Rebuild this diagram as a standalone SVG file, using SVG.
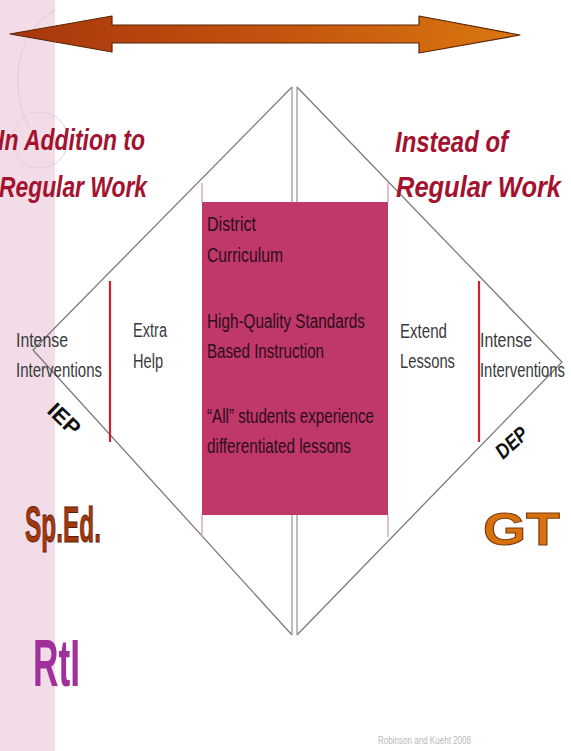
<svg xmlns="http://www.w3.org/2000/svg" width="571" height="751" viewBox="0 0 571 751">
<defs>
<linearGradient id="arrowGrad" x1="0" y1="0" x2="1" y2="0">
<stop offset="0" stop-color="#A8360E"/>
<stop offset="0.5" stop-color="#C2520E"/>
<stop offset="1" stop-color="#DA7810"/>
</linearGradient>
<style>
.edge{fill:none;stroke:#7a7a7a;stroke-width:1.3}
.mid{fill:none;stroke:#9a9a9a;stroke-width:1.3}
.red{stroke:#D0202A;stroke-width:2.2}
.tick{stroke:#D9A8C8;stroke-width:1.5}
.lbl{font-family:"Liberation Sans",Arial,sans-serif;font-size:20px;fill:#3a3a3a}
.box{font-family:"Liberation Sans",Arial,sans-serif;font-size:20px;fill:#2a0e1a}
.title{font-family:"Liberation Sans",Arial,sans-serif;font-size:29px;font-weight:bold;font-style:italic;fill:#A3122E}
.big{font-family:"Liberation Sans",Arial,sans-serif;font-weight:bold}
</style>
</defs>
<rect x="0" y="0" width="571" height="751" fill="#ffffff"/>
<g id="band">
<rect x="0" y="0" width="55" height="751" fill="#F1DCE7"/>
<path d="M55 10 C 20 30 5 80 30 130" fill="none" stroke="#E6C8D8" stroke-width="1"/>
<circle cx="40" cy="140" r="28" fill="none" stroke="#E8CCDB" stroke-width="1"/>
</g>
<g id="arrow">
<polygon points="10,34 112,16 112,25 419,25 419,16 520,35 419,53 419,43 112,43 112,52" fill="url(#arrowGrad)" stroke="#5a2406" stroke-width="1.2" stroke-linejoin="round"/>
</g>
<g id="connectors">
<polyline class="edge" points="292,87 33,350 292,635"/>
<polyline class="edge" points="297,87 562,362 297,635"/>
<line class="mid" x1="292" y1="87" x2="292" y2="635"/>
<line class="mid" x1="297" y1="87" x2="297" y2="635"/>
<line class="red" x1="110" y1="281" x2="110" y2="442"/>
<line class="red" x1="479" y1="281" x2="479" y2="442"/>
<line class="tick" x1="202" y1="183" x2="202" y2="202"/>
<line class="tick" x1="388" y1="183" x2="388" y2="202"/>
<line class="tick" x1="202" y1="515" x2="202" y2="537"/>
<line class="tick" x1="388" y1="515" x2="388" y2="537"/>
</g>
<g id="core">
<rect x="202" y="202" width="186" height="313" fill="#C0376A"/>
<text class="box" x="207" y="231" textLength="49" lengthAdjust="spacingAndGlyphs">District</text>
<text class="box" x="207" y="262" textLength="76" lengthAdjust="spacingAndGlyphs">Curriculum</text>
<text class="box" x="207" y="328" textLength="158" lengthAdjust="spacingAndGlyphs">High-Quality Standards</text>
<text class="box" x="207" y="358" textLength="117" lengthAdjust="spacingAndGlyphs">Based Instruction</text>
<text class="box" x="207" y="423" textLength="167" lengthAdjust="spacingAndGlyphs">“All” students experience</text>
<text class="box" x="207" y="453" textLength="144" lengthAdjust="spacingAndGlyphs">differentiated lessons</text>
</g>
<g id="addition">
<text class="title" x="-2" y="150" textLength="147" lengthAdjust="spacingAndGlyphs">In Addition to</text>
<text class="title" x="-1" y="197" textLength="148" lengthAdjust="spacingAndGlyphs">Regular Work</text>
</g>
<g id="instead">
<text class="title" x="395" y="152" textLength="113" lengthAdjust="spacingAndGlyphs">Instead of</text>
<text class="title" x="396" y="197" textLength="165" lengthAdjust="spacingAndGlyphs">Regular Work</text>
</g>
<g id="left-intense">
<text class="lbl" x="16" y="347" textLength="52" lengthAdjust="spacingAndGlyphs">Intense</text>
<text class="lbl" x="16" y="377" textLength="86" lengthAdjust="spacingAndGlyphs">Interventions</text>
</g>
<g id="extra-help">
<text class="lbl" x="133" y="337" textLength="34" lengthAdjust="spacingAndGlyphs">Extra</text>
<text class="lbl" x="133" y="368" textLength="30" lengthAdjust="spacingAndGlyphs">Help</text>
</g>
<g id="extend-lessons">
<text class="lbl" x="400" y="338" textLength="47" lengthAdjust="spacingAndGlyphs">Extend</text>
<text class="lbl" x="400" y="368" textLength="55" lengthAdjust="spacingAndGlyphs">Lessons</text>
</g>
<g id="right-intense">
<text class="lbl" x="480" y="347" textLength="52" lengthAdjust="spacingAndGlyphs">Intense</text>
<text class="lbl" x="480" y="377" textLength="85" lengthAdjust="spacingAndGlyphs">Interventions</text>
</g>
<g id="iep">
<text class="big" x="0" y="0" font-size="22" fill="#111" transform="translate(46,412) rotate(44)" textLength="36" lengthAdjust="spacingAndGlyphs">IEP</text>
</g>
<g id="dep">
<text class="big" x="0" y="0" font-size="21" font-style="italic" font-weight="normal" fill="#111" transform="translate(503,460) rotate(-42)" textLength="36" lengthAdjust="spacingAndGlyphs">DEP</text>
</g>
<g id="sped">
<text class="big" x="25" y="542" font-size="50" fill="#A3380F" stroke="#5a1e06" stroke-width="1" textLength="76" lengthAdjust="spacingAndGlyphs">Sp.Ed.</text>
</g>
<g id="gt">
<text class="big" x="483" y="545" font-size="46" fill="#D8700F" stroke="#7a3a08" stroke-width="1" textLength="77" lengthAdjust="spacingAndGlyphs">GT</text>
</g>
<g id="rti">
<text class="big" x="33" y="686" font-size="66" font-weight="bold" fill="#A2309B" textLength="47" lengthAdjust="spacingAndGlyphs">RtI</text>
</g>
<g id="credit">
<text x="378" y="744" font-family="'Liberation Sans',Arial,sans-serif" font-size="10" fill="#b8b8b8" textLength="93" lengthAdjust="spacingAndGlyphs">Robinson and Kueht 2008</text>
</g>
</svg>
